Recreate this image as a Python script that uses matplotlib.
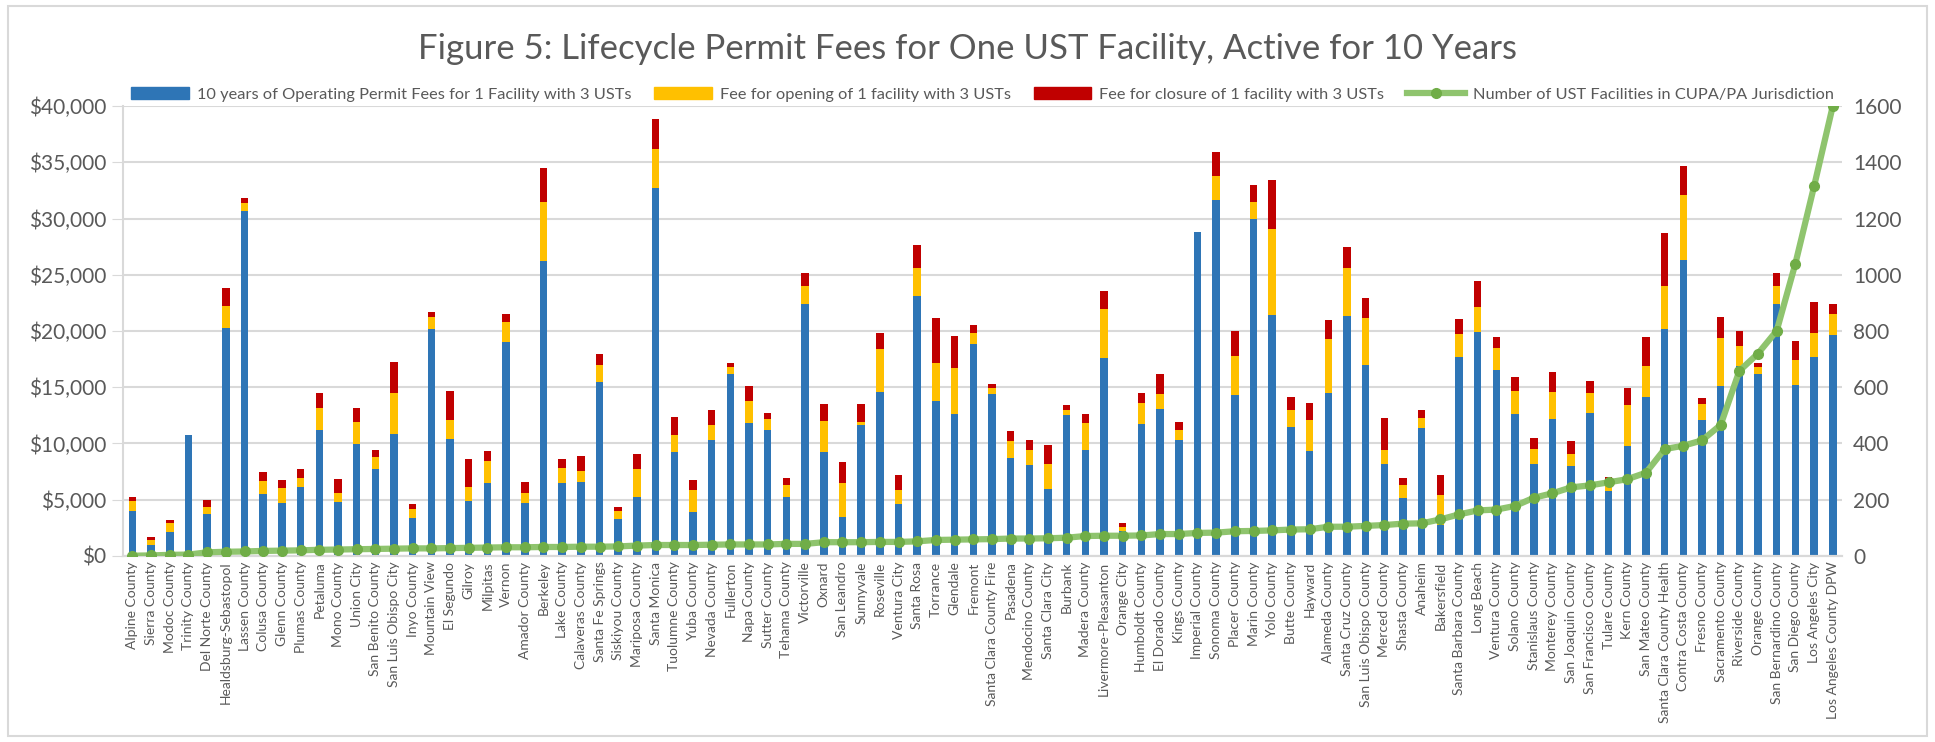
import numpy as np
import matplotlib
matplotlib.use("Agg")
import matplotlib.pyplot as plt
from matplotlib.patches import Patch, Rectangle
from matplotlib.lines import Line2D
from matplotlib.ticker import FuncFormatter

plt.rcParams['font.family'] = ['Lato', 'DejaVu Sans']

# jurisdictions, sorted by number of UST facilities
agencies = [
    "Alpine County", "Sierra County", "Modoc County", "Trinity County", "Del Norte County",
    "Healdsburg-Sebastopol", "Lassen County", "Colusa County", "Glenn County", "Plumas County",
    "Petaluma", "Mono County", "Union City", "San Benito County", "San Luis Obispo City",
    "Inyo County", "Mountain View", "El Segundo", "Gilroy", "Milpitas",
    "Vernon", "Amador County", "Berkeley", "Lake County", "Calaveras County",
    "Santa Fe Springs", "Siskiyou County", "Mariposa County", "Santa Monica", "Tuolumne County",
    "Yuba County", "Nevada County", "Fullerton", "Napa County", "Sutter County",
    "Tehama County", "Victorville", "Oxnard", "San Leandro", "Sunnyvale",
    "Roseville", "Ventura City", "Santa Rosa", "Torrance", "Glendale",
    "Fremont", "Santa Clara County Fire", "Pasadena", "Mendocino County", "Santa Clara City",
    "Burbank", "Madera County", "Livermore-Pleasanton", "Orange City", "Humboldt County",
    "El Dorado County", "Kings County", "Imperial County", "Sonoma County", "Placer County",
    "Marin County", "Yolo County", "Butte County", "Hayward", "Alameda County",
    "Santa Cruz County", "San Luis Obispo County", "Merced County", "Shasta County", "Anaheim",
    "Bakersfield", "Santa Barbara County", "Long Beach", "Ventura County", "Solano County",
    "Stanislaus County", "Monterey County", "San Joaquin County", "San Francisco County", "Tulare County",
    "Kern County", "San Mateo County", "Santa Clara County Health", "Contra Costa County", "Fresno County",
    "Sacramento County", "Riverside County", "Orange County", "San Bernardino County", "San Diego County",
    "Los Angeles City", "Los Angeles County DPW",
]

# cumulative tops: operating, +opening, +closure
operating = [
    4000, 980, 2160, 10730, 3760, 20300, 30670, 5540, 4740, 6130,
    11230, 4800, 9960, 7730, 10840, 3380, 20180, 10430, 4890, 6490,
    19020, 4710, 26220, 6490, 6610, 15500, 3320, 5240, 32680, 9270,
    3940, 10310, 16210, 11820, 11230, 5240, 22400, 9210, 3470, 11670,
    14580, 4620, 23110, 13780, 12620, 18840, 14400, 8680, 8090, 5990,
    12530, 9450, 17630, 2250, 11760, 13070, 10310, 28830, 31650, 14340,
    29960, 21420, 11470, 9330, 14490, 21300, 16980, 8150, 5190, 11410,
    2790, 17690, 19880, 16500, 12650, 8150, 12150, 8030, 12740, 5810,
    9810, 14130, 20210, 26310, 12060, 15080, 16890, 16180, 22400, 15200,
    17720, 19640,
]
with_opening = [
    4920, 1450, 2930, 10730, 4360, 22220, 31410, 6670, 6010, 6960,
    13160, 5630, 11940, 8830, 14460, 4150, 21240, 12120, 6130, 8470,
    20770, 5570, 31440, 7820, 7560, 17010, 3970, 7730, 36150, 10790,
    5900, 11640, 16800, 13750, 12150, 6310, 24030, 12000, 6520, 11940,
    18400, 5900, 25570, 17190, 16710, 19790, 14900, 10220, 9420, 8150,
    12980, 11820, 21960, 2580, 13600, 14400, 11230, 28830, 33810, 17810,
    31440, 29070, 12980, 12090, 19260, 25600, 21130, 9390, 6280, 12300,
    5420, 19730, 22160, 18520, 14640, 9540, 14610, 9100, 14460, 6760,
    13390, 16920, 24000, 32120, 13510, 19350, 18670, 16770, 24030, 17420,
    19850, 21480,
]
with_closure = [
    5270, 1660, 3170, 10730, 4950, 23820, 31850, 7440, 6730, 7730,
    14520, 6840, 13160, 9390, 17210, 4590, 21690, 14700, 8590, 9300,
    21480, 6550, 34520, 8620, 8860, 17990, 4330, 9070, 38880, 12330,
    6790, 12980, 17130, 15110, 12740, 6960, 25160, 13510, 8330, 13510,
    19820, 7200, 27670, 21160, 19560, 20530, 15260, 11140, 10340, 9840,
    13390, 12620, 23530, 2900, 14520, 16150, 11910, 28830, 35910, 19970,
    32950, 33420, 14100, 13570, 20950, 27500, 22960, 12240, 6960, 12980,
    7170, 21040, 24470, 19500, 15880, 10460, 16360, 10250, 15560, 7050,
    14930, 19500, 28710, 34700, 14040, 21270, 19970, 17130, 25130, 19110,
    22550, 22400,
]
facilities = [
    1, 2, 4, 5, 13, 15, 16, 18, 19, 20,
    22, 23, 24, 25, 26, 27, 27, 28, 29, 30,
    31, 31, 32, 32, 33, 33, 34, 37, 39, 39,
    39, 40, 41, 41, 41, 43, 43, 49, 49, 49,
    50, 50, 52, 57, 58, 59, 60, 62, 62, 63,
    65, 71, 72, 72, 73, 78, 78, 82, 83, 88,
    89, 91, 94, 95, 104, 104, 107, 110, 115, 116,
    130, 148, 162, 165, 178, 207, 223, 244, 251, 262,
    273, 296, 380, 392, 411, 466, 658, 720, 801, 1040,
    1315, 1600,
]

op = np.array(operating)
opening = np.array(with_opening) - op
closure = np.array(with_closure) - np.array(with_opening)

BLUE = '#2e75b6'
GOLD = '#ffc000'
RED = '#c00000'
GREEN_LINE = '#8fc46e'
GREEN_DOT = '#70ad47'
GREY_TXT = '#595959'
GRID = '#d9d9d9'

fig = plt.figure(figsize=(19.35, 7.42), dpi=100)
ax = fig.add_axes([0.0636, 0.2507, 0.8884, 0.6064])
ax2 = ax.twinx()

x = np.arange(len(agencies))
w = 0.4
ax.bar(x, op, w, color=BLUE, zorder=2)
ax.bar(x, opening, w, bottom=op, color=GOLD, zorder=2)
ax.bar(x, closure, w, bottom=op + opening, color=RED, zorder=2)

ax2.plot(x, facilities, color=GREEN_LINE, lw=4.5, marker='o', ms=7,
         mfc=GREEN_DOT, mec=GREEN_DOT, zorder=3)

ax.set_xlim(-0.5, len(agencies) - 0.5)
ax.set_ylim(0, 40000)
ax2.set_ylim(0, 1600)
ax.set_yticks(np.arange(0, 40001, 5000))
ax2.set_yticks(np.arange(0, 1601, 200))
ax.yaxis.set_major_formatter(FuncFormatter(lambda v, p: '${:,.0f}'.format(v)))

ax.set_xticks(x)
ax.set_xticklabels(agencies, rotation=90, fontsize=10, color=GREY_TXT)
ax.tick_params(axis='x', length=0, pad=4)
ax.tick_params(axis='y', labelsize=15, colors=GREY_TXT, length=8, color=GRID, pad=4)
ax2.tick_params(axis='y', labelsize=15, colors=GREY_TXT, length=0, pad=8)

ax.grid(axis='y', color=GRID, lw=1.5, zorder=0)
ax.set_axisbelow(True)
for a in (ax, ax2):
    for s in ('top', 'right'):
        a.spines[s].set_visible(False)
    a.spines['left'].set_color(GRID)
    a.spines['bottom'].set_color(GRID)
    a.spines['left'].set_linewidth(1.5)
    a.spines['bottom'].set_linewidth(1.5)
ax2.spines['left'].set_visible(False)

fig.suptitle('Figure 5: Lifecycle Permit Fees for One UST Facility, Active for 10 Years',
             y=0.955, fontsize=25, color=GREY_TXT)

handles = [
    Patch(color=BLUE, label='10 years of Operating Permit Fees for 1 Facility with 3 USTs'),
    Patch(color=GOLD, label='Fee for opening of 1 facility with 3 USTs'),
    Patch(color=RED, label='Fee for closure of 1 facility with 3 USTs'),
    Line2D([], [], color=GREEN_LINE, lw=4.5, marker='o', ms=7, mfc=GREEN_DOT, mec=GREEN_DOT,
           label='Number of UST Facilities in CUPA/PA Jurisdiction'),
]
leg = fig.legend(handles=handles, loc='center', bbox_to_anchor=(0.5078, 0.873), ncol=4,
                 frameon=False, fontsize=11.8, handlelength=3.5, handleheight=0.8,
                 columnspacing=1.4, handletextpad=0.5)
for t in leg.get_texts():
    t.set_color(GREY_TXT)

# chart area border
fig.patches.append(Rectangle((0.004, 0.008), 0.992, 0.984, transform=fig.transFigure,
                             fill=False, edgecolor=GRID, lw=1.5))

fig.savefig('out.png', dpi=100)
